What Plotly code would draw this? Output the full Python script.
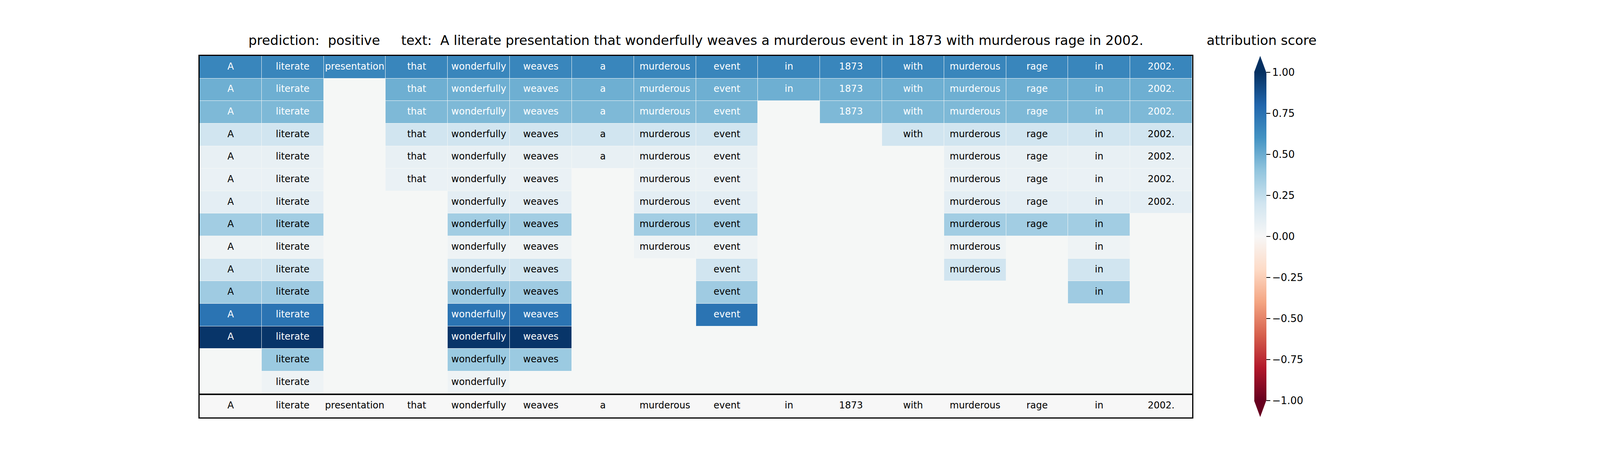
import plotly.graph_objects as go

# tokens of the sentence, one column each
tokens = ["A", "literate", "presentation", "that", "wonderfully", "weaves", "a",
          "murderous", "event", "in", "1873", "with", "murderous", "rage", "in", "2002."]

# token index removed at each row (row 0 keeps everything)
dropped = [None, 2, 9, 10, 11, 6, 3, 15, 13, 7, 12, 14, 8, 0, 5]

# attribution score of each row
row_scores = [0.66, 0.49, 0.45, 0.20, 0.08, 0.07, 0.10, 0.35, 0.05, 0.20, 0.36, 0.74, 0.98, 0.37, 0.05]

prediction = "positive"
cbar_ticks = [-1.0, -0.75, -0.5, -0.25, 0.0, 0.25, 0.5, 0.75, 1.0]

# matplotlib RdBu
rdbu = ["#67001f", "#b2182b", "#d6604d", "#f4a582", "#fddbc7", "#f7f7f7",
        "#d1e5f0", "#92c5de", "#4393c3", "#2166ac", "#053061"]
colorscale = [[i / 10, c] for i, c in enumerate(rdbu)]

present = set(range(len(tokens)))
z = []
tx, ty, tt, tc = [], [], [], []
for r, score in enumerate(row_scores):
    if dropped[r] is not None:
        present.discard(dropped[r])
    row = []
    for c in range(len(tokens)):
        if c in present:
            row.append(score)
            tx.append(c)
            ty.append(r)
            tt.append(tokens[c])
            tc.append("white" if score > 0.4 else "black")
        else:
            row.append(None)
    z.append(row)

font = "DejaVu Sans"
fig = go.Figure()

fig.add_trace(go.Heatmap(
    z=z, x=list(range(len(tokens))), y=list(range(len(row_scores))),
    colorscale=colorscale, zmin=-1, zmax=1, xgap=1, ygap=1, hoverinfo="skip",
    colorbar=dict(x=1.0624, xanchor="left", y=0.5005, yanchor="middle",
                  len=840, lenmode="pixels", thickness=31, thicknessmode="pixels",
                  xpad=0, ypad=0, outlinewidth=0, tickvals=cbar_ticks, tickformat=".2f",
                  ticks="outside", ticklen=10, tickwidth=2, tickcolor="black",
                  tickfont=dict(family=font, size=26, color="black")),
    xaxis="x", yaxis="y"))

fig.add_trace(go.Scatter(
    x=tx, y=ty, text=tt, mode="text", hoverinfo="skip",
    textfont=dict(family=font, size=24, color=tc), showlegend=False,
    xaxis="x", yaxis="y"))

# bottom reference row with the full sentence
fig.add_trace(go.Heatmap(
    z=[[0.0] * len(tokens)], x=list(range(len(tokens))), y=[0],
    colorscale=colorscale, zmin=-1, zmax=1, showscale=False, hoverinfo="skip",
    xaxis="x2", yaxis="y2"))

fig.add_trace(go.Scatter(
    x=list(range(len(tokens))), y=[0] * len(tokens), text=tokens, mode="text",
    hoverinfo="skip", textfont=dict(family=font, size=24, color="black"),
    showlegend=False, xaxis="x2", yaxis="y2"))

ax = dict(showticklabels=False, ticks="", showgrid=False, zeroline=False,
          showline=True, linecolor="black", linewidth=3, mirror=True)

title = ("prediction:\u00a0\u00a0" + prediction + "\u00a0\u00a0\u00a0\u00a0\u00a0text:\u00a0\u00a0"
         + " ".join(tokens))

fig.update_layout(
    width=4080, height=1184,
    margin=dict(l=503, r=1036, t=135, b=124, pad=0),
    paper_bgcolor="white", plot_bgcolor="#f5f7f6",
    xaxis=dict(ax, range=[-0.5, len(tokens) - 0.5], domain=[0, 1], anchor="y"),
    yaxis=dict(ax, range=[len(row_scores) - 0.5, -0.5], domain=[0.0654, 1], anchor="x"),
    xaxis2=dict(ax, range=[-0.5, len(tokens) - 0.5], domain=[0, 1], anchor="y2"),
    yaxis2=dict(ax, range=[0.5, -0.5], domain=[0, 0.0622], anchor="x2"),
    title=dict(text=title, x=0.5, xref="paper", xanchor="center",
               y=1 - 95 / 1184, yref="container", yanchor="middle",
               font=dict(family=font, size=34, color="black")),
    showlegend=False,
)

fig.add_annotation(text="attribution score", x=1.0697, y=1.0432, xref="paper", yref="paper",
                   xanchor="center", yanchor="middle", showarrow=False,
                   font=dict(family=font, size=34, color="black"))

# extend arrows on the colorbar
x0, x1 = 1.0624, 1.0746
xm = (x0 + x1) / 2
fig.add_shape(type="path", xref="paper", yref="paper", line_width=0, fillcolor=rdbu[-1],
              path=f"M {x0},0.9546 L {x1},0.9546 L {xm},1.0 Z")
fig.add_shape(type="path", xref="paper", yref="paper", line_width=0, fillcolor=rdbu[0],
              path=f"M {x0},0.0465 L {x1},0.0465 L {xm},0.0011 Z")

fig.write_html("out.html")
